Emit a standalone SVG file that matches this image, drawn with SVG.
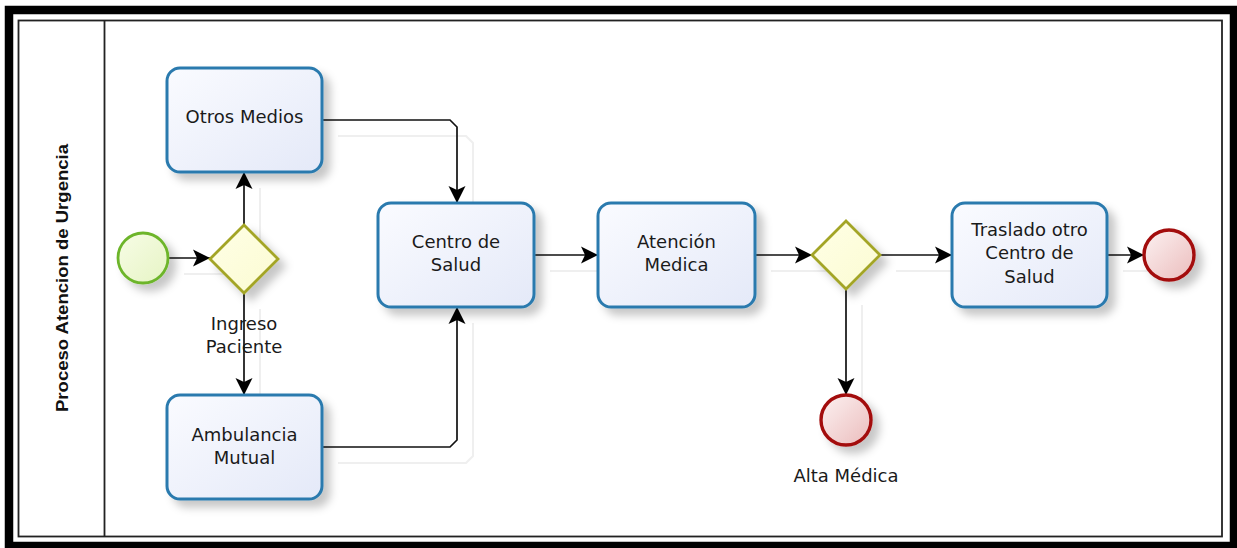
<svg xmlns="http://www.w3.org/2000/svg" width="1237" height="548" viewBox="0 0 1237 548">
<style>
.task{fill:url(#gTask);stroke:#2a7aae;stroke-width:3;filter:url(#sh)}
.gw{fill:url(#gGw);stroke:#a3a526;stroke-width:2.8;filter:url(#sh)}
.start{fill:url(#gStart);stroke:#6db52c;stroke-width:2.8;filter:url(#sh)}
.end{fill:url(#gEnd);stroke:#a30d0d;stroke-width:3.4;filter:url(#sh)}
.lbl{font-family:"DejaVu Sans",sans-serif;font-size:18px;fill:#1a1a1a;text-anchor:middle}
.flow{fill:none;stroke:#111;stroke-width:1.7;marker-end:url(#arr)}
.ghost{fill:none;stroke:#efefef;stroke-width:2}
</style>
<defs>
<linearGradient id="gTask" x1="0" y1="0" x2="1" y2="1"><stop offset="0" stop-color="#fafbff"/><stop offset="1" stop-color="#e4e9f8"/></linearGradient>
<linearGradient id="gGw" x1="0" y1="0" x2="1" y2="1"><stop offset="0" stop-color="#ffffe6"/><stop offset="1" stop-color="#fbfbd2"/></linearGradient>
<linearGradient id="gStart" x1="0" y1="0" x2="1" y2="1"><stop offset="0" stop-color="#f7fce6"/><stop offset="1" stop-color="#e6f4c4"/></linearGradient>
<linearGradient id="gEnd" x1="0" y1="0" x2="1" y2="1"><stop offset="0" stop-color="#fcf2f2"/><stop offset="1" stop-color="#ebbcbc"/></linearGradient>
<filter id="sh" x="-30%" y="-30%" width="170%" height="170%"><feDropShadow dx="7" dy="7" stdDeviation="4" flood-color="#000" flood-opacity="0.22"/></filter>
<marker id="arr" markerUnits="userSpaceOnUse" markerWidth="20" markerHeight="20" refX="17" refY="9" orient="auto"><path d="M0,0.5 L17,9 L0,17.5 L4,9 Z" fill="#000"/></marker>
</defs>
<rect x="9" y="10" width="1225" height="536" fill="#fff" stroke="#000" stroke-width="8.5"/>
<rect x="18.5" y="20.5" width="1203.5" height="516" fill="#fff" stroke="#222" stroke-width="1.8"/>
<line x1="104.5" y1="20.5" x2="104.5" y2="536.5" stroke="#222" stroke-width="1.8"/>
<g id="lane"><text x="0" y="0" transform="translate(68,278) rotate(-90)" font-family="Liberation Sans,Arial,sans-serif" font-weight="bold" font-size="17" text-anchor="middle" fill="#111" textLength="268" lengthAdjust="spacingAndGlyphs">Proceso Atencion de Urgencia</text></g>
<g id="ghosts">
<path class="ghost" d="M184,274 H226"/>
<path class="ghost" d="M260,241 V188"/>
<path class="ghost" d="M260,309 V411"/>
<path class="ghost" d="M338,136 H466 L473,143 V219"/>
<path class="ghost" d="M338,463 H466 L473,456 V323"/>
<path class="ghost" d="M550,271 H614"/>
<path class="ghost" d="M771,271 H828"/>
<path class="ghost" d="M896,271 H968"/>
<path class="ghost" d="M1123,271 H1160"/>
<path class="ghost" d="M862,305 V411"/>
</g>
<g id="connectors">
<path class="flow" d="M168,258 H210"/>
<path class="flow" d="M244,225 V172"/>
<path class="flow" d="M244,293 V395"/>
<path class="flow" d="M322,120 H450 L457,127 V203"/>
<path class="flow" d="M322,447 H450 L457,440 V307"/>
<path class="flow" d="M534,255 H598"/>
<path class="flow" d="M755,255 H812"/>
<path class="flow" d="M880,255 H952"/>
<path class="flow" d="M1107,255 H1144"/>
<path class="flow" d="M846,289 V395"/>
</g>
<g id="start"><circle class="start" cx="143" cy="258" r="25"/></g>
<g id="gw1"><path class="gw" d="M244,225 L278,259 L244,293 L210,259 Z"/><text class="lbl"><tspan x="244" y="330">Ingreso</tspan><tspan x="244" y="353">Paciente</tspan></text></g>
<g id="otros"><rect class="task" x="167" y="68" width="155" height="104" rx="13"/><text class="lbl" x="244.5" y="123">Otros Medios</text></g>
<g id="ambulancia"><rect class="task" x="167" y="395" width="155" height="104" rx="13"/><text class="lbl"><tspan x="244.5" y="441">Ambulancia</tspan><tspan x="244.5" y="464">Mutual</tspan></text></g>
<g id="centro"><rect class="task" x="378" y="203" width="156" height="104" rx="13"/><text class="lbl"><tspan x="456" y="248">Centro de</tspan><tspan x="456" y="271">Salud</tspan></text></g>
<g id="atencion"><rect class="task" x="598" y="203" width="157" height="104" rx="13"/><text class="lbl"><tspan x="676.5" y="248">Atención</tspan><tspan x="676.5" y="271">Medica</tspan></text></g>
<g id="gw2"><path class="gw" d="M846,221 L880,255 L846,289 L812,255 Z"/></g>
<g id="traslado"><rect class="task" x="952" y="203" width="155" height="104" rx="13"/><text class="lbl"><tspan x="1029.5" y="236">Traslado otro</tspan><tspan x="1029.5" y="259">Centro de</tspan><tspan x="1029.5" y="283">Salud</tspan></text></g>
<g id="end1"><circle class="end" cx="1169" cy="255" r="25"/></g>
<g id="end2"><circle class="end" cx="846" cy="420" r="25"/><text class="lbl" x="846" y="482">Alta Médica</text></g>
</svg>
